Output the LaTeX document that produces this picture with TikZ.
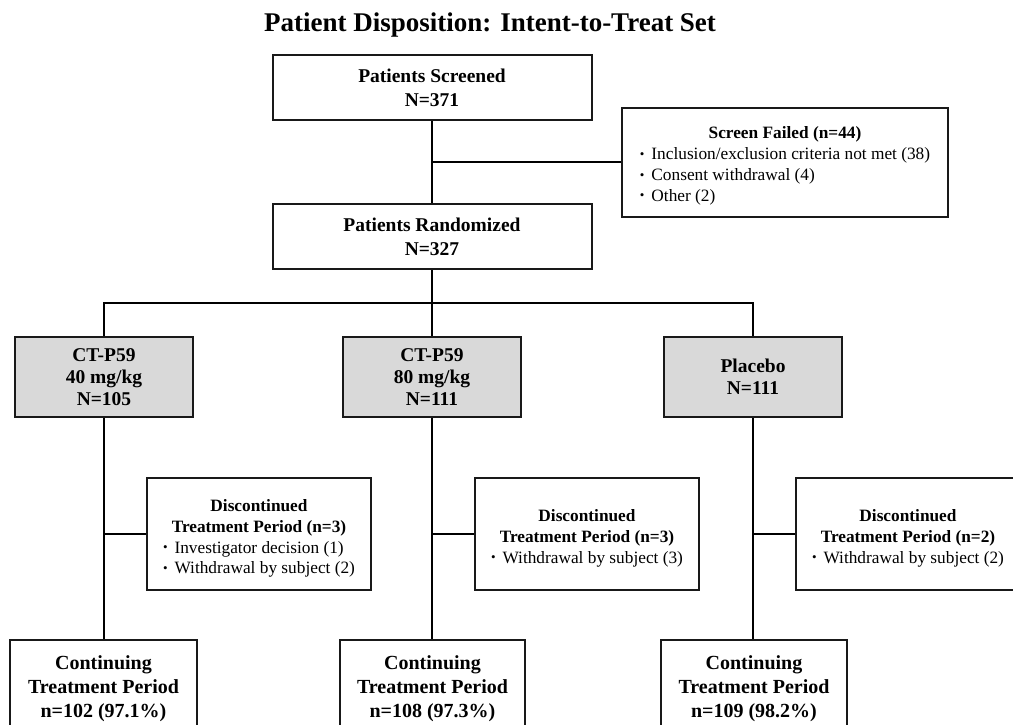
\documentclass[tikz,border=0pt]{standalone}
\usepackage{fontspec}
\setmainfont{Liberation Serif}
\begin{document}
\begin{tikzpicture}[x=1pt,y=-1pt,
  box/.style={draw=black!90, line width=2pt, inner sep=0pt, anchor=center, align=center},
  mainbox/.style={box, minimum width=319pt, minimum height=65pt, font=\bfseries\fontsize{19.5}{24}\selectfont},
  armbox/.style={box, fill=black!15, minimum width=178pt, minimum height=80pt, font=\bfseries\fontsize{19.5}{22}\selectfont},
  discbox/.style={box, minimum width=224pt, minimum height=112pt, font=\fontsize{17.3}{20.8}\selectfont},
  contbox/.style={box, minimum height=98pt, font=\bfseries\fontsize{20}{24}\selectfont},
  conn/.style={draw=black, line width=1.8pt}
]
\newcommand{\bul}{\raisebox{1.5pt}{\fontsize{13}{13}\selectfont\textbullet}\hspace{7pt}}
\newcommand{\lowered}[2]{\raisebox{-#1}[\height][\depth]{#2}}
\useasboundingbox (0,0) rectangle (1013,724);
\clip (0,0) rectangle (1013,724);

\node[anchor=base, font=\bfseries\fontsize{27}{32}\selectfont] (title) at (490,31) {Patient Disposition: Intent-to-Treat Set};

\node[mainbox] (scr) at (432,87.5) {Patients Screened\\N=371};
\node[mainbox] (rand) at (432,236.5) {Patients Randomized\\N=327};
\node[discbox, minimum width=326pt, minimum height=109pt] (fail) at (785,162) {\lowered{4pt}{%
  \begin{tabular}{@{}l@{}}
  \multicolumn{1}{@{}c@{}}{\bfseries Screen Failed (n=44)}\\
  \bul Inclusion/exclusion criteria not met (38)\\
  \bul Consent withdrawal (4)\\
  \bul Other (2)
  \end{tabular}}};

\node[armbox] (a1) at (104,377) {CT-P59\\40 mg/kg\\N=105};
\node[armbox] (a2) at (432,377) {CT-P59\\80 mg/kg\\N=111};
\node[armbox] (a3) at (753,377) {Placebo\\N=111};

\node[discbox] (d1) at (259,534) {\lowered{4.5pt}{%
  \begin{tabular}{@{}l@{}}
  \multicolumn{1}{@{}c@{}}{\bfseries Discontinued}\\
  \multicolumn{1}{@{}c@{}}{\bfseries Treatment Period (n=3)}\\
  \bul Investigator decision (1)\\
  \bul Withdrawal by subject (2)
  \end{tabular}}};
\node[discbox] (d2) at (587,534) {\lowered{4.5pt}{%
  \begin{tabular}{@{}l@{}}
  \multicolumn{1}{@{}c@{}}{\bfseries Discontinued}\\
  \multicolumn{1}{@{}c@{}}{\bfseries Treatment Period (n=3)}\\
  \bul Withdrawal by subject (3)
  \end{tabular}}};
\node[discbox] (d3) at (908,534) {\lowered{4.5pt}{%
  \begin{tabular}{@{}l@{}}
  \multicolumn{1}{@{}c@{}}{\bfseries Discontinued}\\
  \multicolumn{1}{@{}c@{}}{\bfseries Treatment Period (n=2)}\\
  \bul Withdrawal by subject (2)
  \end{tabular}}};

\node[contbox, minimum width=187pt] (c1) at (103.5,689) {Continuing\\Treatment Period\\n=102 (97.1\%)};
\node[contbox, minimum width=185pt] (c2) at (432.5,689) {Continuing\\Treatment Period\\n=108 (97.3\%)};
\node[contbox, minimum width=186pt] (c3) at (754,689) {Continuing\\Treatment Period\\n=109 (98.2\%)};

% connectors
\draw[conn] (scr.south) -- (rand.north);
\draw[conn] (fail.west) -- (fail.west -| scr.south);
\coordinate (split) at (432,303);
\draw[conn] (rand.south) -- (split);
\draw[conn] (a1.north) |- (split) -| (a3.north);
\draw[conn] (split) -- (a2.north);
\draw[conn] (a1.south) -- (a1.south |- c1.north);
\draw[conn] (a2.south) -- (a2.south |- c2.north);
\draw[conn] (a3.south) -- (a3.south |- c3.north);
\draw[conn] (d1.west) -- (d1.west -| a1.south);
\draw[conn] (d2.west) -- (d2.west -| a2.south);
\draw[conn] (d3.west) -- (d3.west -| a3.south);
\end{tikzpicture}
\end{document}
